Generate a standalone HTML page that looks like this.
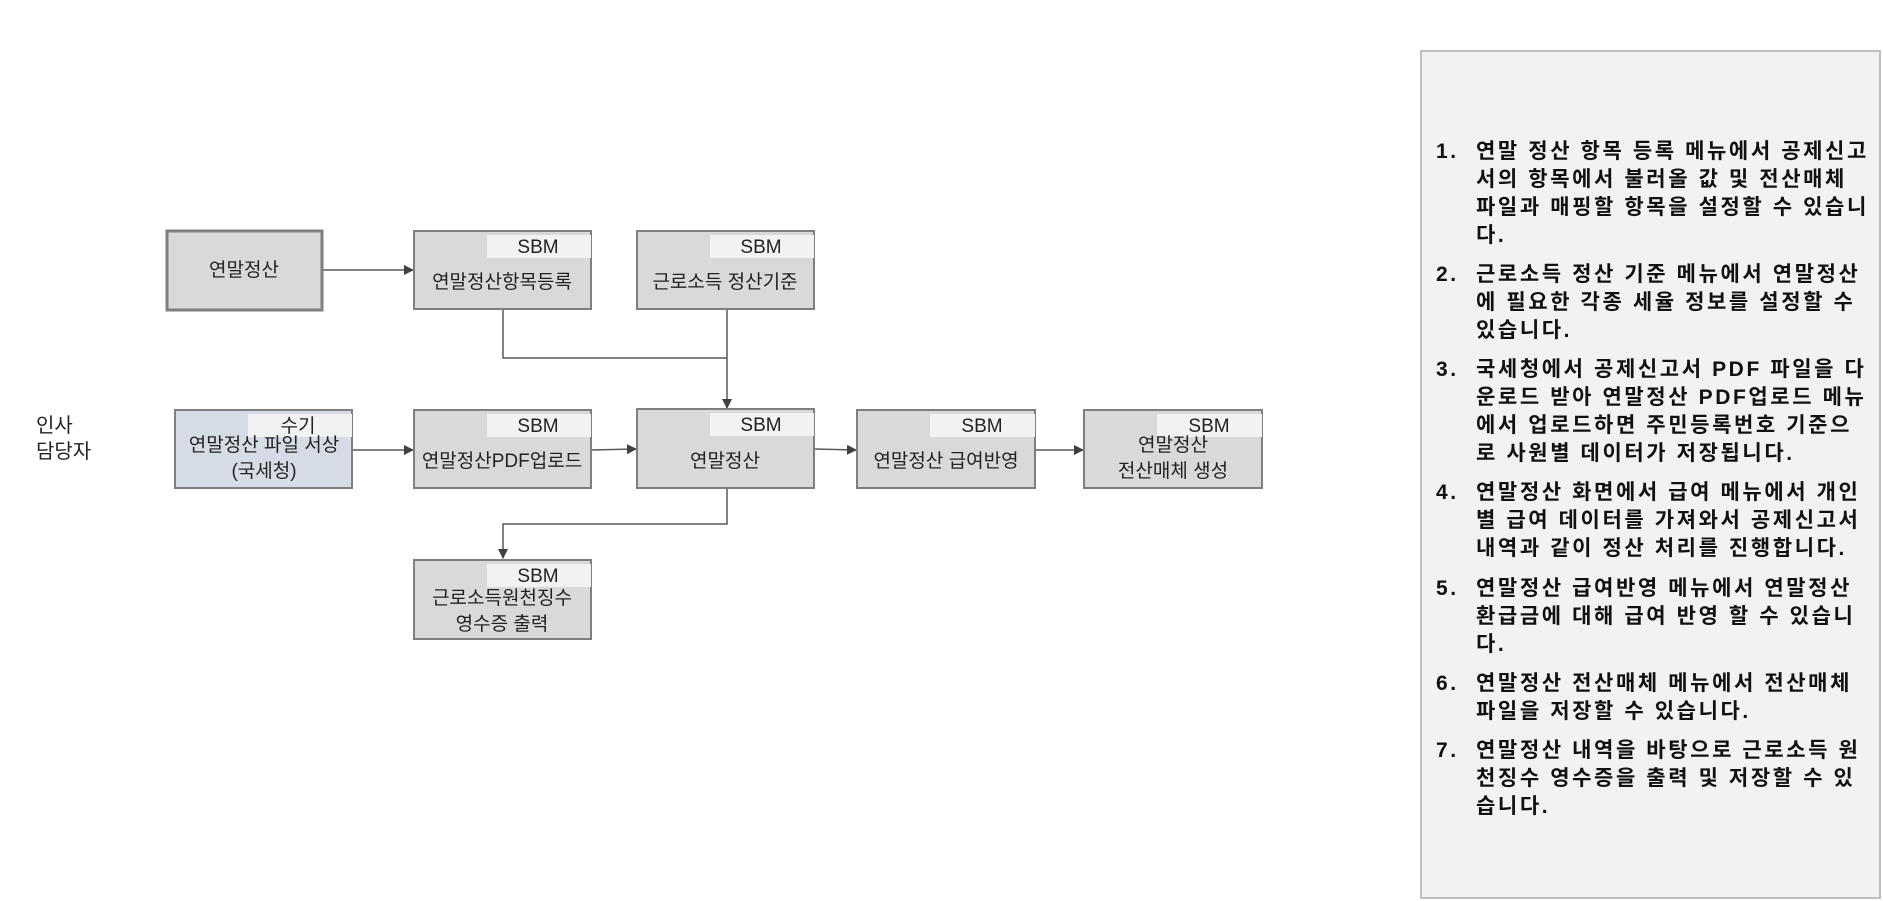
<!DOCTYPE html>
<html><head><meta charset="utf-8"><style>
body{margin:0;background:#fff;width:1883px;height:901px;overflow:hidden;position:relative;font-family:"Liberation Sans","Noto Sans CJK KR",sans-serif}
svg text{font-family:"Liberation Sans","Noto Sans CJK KR",sans-serif}
#panel{position:absolute;left:1420px;top:50px;width:461px;height:849px;background:#f2f2f2;border:2px solid #bfbfbf;box-sizing:border-box}
#panel ol{margin:0;padding:0;list-style:none;position:absolute;left:14px;top:86px;width:450px}
#panel li{position:relative;padding-left:40px;font-weight:bold;font-size:21px;line-height:27.9px;letter-spacing:2.6px;margin-bottom:11.5px;color:#111;white-space:nowrap}
#panel li span{position:absolute;left:0;top:0}
</style></head><body>
<svg width="1883" height="901" style="position:absolute;left:0;top:0">
<defs><marker id="a" markerWidth="10" markerHeight="10" refX="9" refY="5" orient="auto" markerUnits="userSpaceOnUse"><path d="M0,0 L10,5 L0,10 z" fill="#404040"/></marker></defs>
<g stroke="#595959" stroke-width="1.5" fill="none">
<line x1="322" y1="270" x2="413" y2="270" marker-end="url(#a)"/>
<polyline points="503,309 503,358 727,358"/>
<line x1="727" y1="309" x2="727" y2="408" marker-end="url(#a)"/>
<line x1="352" y1="450" x2="413" y2="450" marker-end="url(#a)"/>
<line x1="591" y1="450" x2="636" y2="449" marker-end="url(#a)"/>
<line x1="814" y1="449" x2="856" y2="450" marker-end="url(#a)"/>
<line x1="1035" y1="450" x2="1083" y2="450" marker-end="url(#a)"/>
<polyline points="727,488 727,524 503,524 503,558" marker-end="url(#a)"/>
</g>
<g fill="#d9d9d9" stroke="#7f7f7f" stroke-width="2">
<rect x="167" y="231" width="155" height="79" stroke-width="3"/>
<rect x="414" y="231" width="177" height="78"/>
<rect x="637" y="231" width="177" height="78"/>
<rect x="175" y="410" width="177" height="78" fill="#d6dce5"/>
<rect x="414" y="410" width="177" height="78"/>
<rect x="637" y="409" width="177" height="79"/>
<rect x="857" y="410" width="178" height="78"/>
<rect x="1084" y="410" width="178" height="78"/>
<rect x="414" y="560" width="177" height="79"/>
</g>
<g fill="#f2f2f2">
<rect x="487" y="235" width="104" height="23"/>
<rect x="710" y="235" width="104" height="23"/>
<rect x="248" y="414" width="104" height="23"/>
<rect x="487" y="414" width="104" height="23"/>
<rect x="710" y="413" width="104" height="23"/>
<rect x="930" y="414" width="105" height="23"/>
<rect x="1157" y="414" width="105" height="23"/>
<rect x="487" y="564" width="104" height="23"/>
</g>
<g font-size="19" fill="#222" text-anchor="middle">
<text x="244" y="276">연말정산</text>
<text x="538" y="253">SBM</text>
<text x="502" y="288">연말정산항목등록</text>
<text x="761" y="253">SBM</text>
<text x="725" y="288">근로소득 정산기준</text>
<text x="298" y="432">수기</text>
<text x="264" y="451">연말정산 파일 서상</text>
<text x="264" y="477">(국세청)</text>
<text x="538" y="432">SBM</text>
<text x="502" y="467">연말정산PDF업로드</text>
<text x="761" y="431">SBM</text>
<text x="725" y="467">연말정산</text>
<text x="982" y="432">SBM</text>
<text x="946" y="467">연말정산 급여반영</text>
<text x="1209" y="432">SBM</text>
<text x="1173" y="451">연말정산</text>
<text x="1173" y="477">전산매체 생성</text>
<text x="538" y="582">SBM</text>
<text x="502" y="604">근로소득원천징수</text>
<text x="502" y="630">영수증 출력</text>
</g>
<g font-size="20" fill="#222">
<text x="36" y="432">인사</text>
<text x="36" y="458">담당자</text>
</g>
</svg>
<div id="panel"><ol>
<li><span>1.</span>연말 정산 항목 등록 메뉴에서 공제신고<br>서의 항목에서 불러올 값 및 전산매체<br>파일과 매핑할 항목을 설정할 수 있습니<br>다.</li>
<li><span>2.</span>근로소득 정산 기준 메뉴에서 연말정산<br>에 필요한 각종 세율 정보를 설정할 수<br>있습니다.</li>
<li><span>3.</span>국세청에서 공제신고서 PDF 파일을 다<br>운로드 받아 연말정산 PDF업로드 메뉴<br>에서 업로드하면 주민등록번호 기준으<br>로 사원별 데이터가 저장됩니다.</li>
<li><span>4.</span>연말정산 화면에서 급여 메뉴에서 개인<br>별 급여 데이터를 가져와서 공제신고서<br>내역과 같이 정산 처리를 진행합니다.</li>
<li><span>5.</span>연말정산 급여반영 메뉴에서 연말정산<br>환급금에 대해 급여 반영 할 수 있습니<br>다.</li>
<li><span>6.</span>연말정산 전산매체 메뉴에서 전산매체<br>파일을 저장할 수 있습니다.</li>
<li><span>7.</span>연말정산 내역을 바탕으로 근로소득 원<br>천징수 영수증을 출력 및 저장할 수 있<br>습니다.</li>
</ol></div>
</body></html>
